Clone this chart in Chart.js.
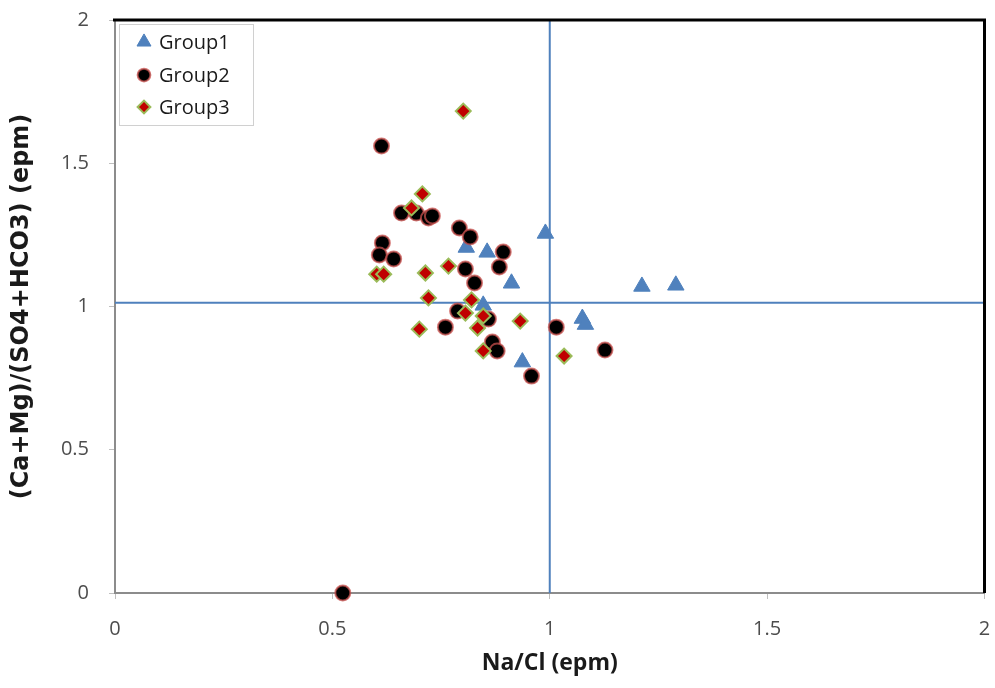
<!DOCTYPE html>
<html>
<head>
<meta charset="utf-8">
<title>Na/Cl vs (Ca+Mg)/(SO4+HCO3)</title>
<script src="https://cdn.jsdelivr.net/npm/chart.js@4.4.1/dist/chart.umd.min.js"></script>
<style>
    html, body { margin: 0; padding: 0; background: #fff; }
    #wrap { width: 995px; height: 688px; }
</style>
</head>
<body>
<div id="wrap"><canvas id="chart" width="995" height="688"></canvas></div>
<script>
// Valores: Na/Cl (x) y (Ca+Mg)/(SO4+HCO3) (y), en epm
const seriesNames = ["Group1", "Group2", "Group3"];

const group1X = [0.990, 0.808, 0.856, 0.912, 1.212, 1.290, 0.847, 1.075, 1.082, 0.937];
const group1Y = [1.255, 1.206, 1.189, 1.081, 1.070, 1.074, 1.004, 0.958, 0.937, 0.806];

const group2X = [0.613, 0.659, 0.693, 0.721, 0.730, 0.792, 0.817, 0.615, 0.608, 0.641, 0.806, 0.827,
                 0.893, 0.884, 0.788, 0.760, 0.859, 0.868, 0.879, 0.958, 1.015, 1.127, 0.524];
const group2Y = [1.560, 1.326, 1.326, 1.309, 1.316, 1.274, 1.243, 1.222, 1.180, 1.166, 1.131, 1.082,
                 1.190, 1.138, 0.984, 0.928, 0.956, 0.876, 0.845, 0.757, 0.928, 0.848, 0.000];

const group3X = [0.801, 0.707, 0.682, 0.602, 0.618, 0.714, 0.767, 0.721, 0.820, 0.806, 0.847, 0.700,
                 0.834, 0.847, 0.932, 1.033];
const group3Y = [1.682, 1.393, 1.344, 1.113, 1.113, 1.117, 1.141, 1.030, 1.023, 0.977, 0.967, 0.921,
                 0.925, 0.845, 0.949, 0.827];

// Líneas de referencia (Na/Cl = 1 y relación ≈ 1)
const refVertX = [1, 1];
const refVertY = [0, 2];
const refHorzX = [0, 2];
const refHorzY = [1.013, 1.013];

// Marcas de los ejes
const xTicks = [0, 0.5, 1, 1.5, 2];
const yTicks = [0, 0.5, 1, 1.5, 2];

const xTitle = "Na/Cl (epm)";
const yTitle = "(Ca+Mg)/(SO4+HCO3) (epm)";

function toPoints(xs, ys) {
    return xs.map((x, i) => ({ x: x, y: ys[i] }));
}

const BLUE = "#4F81BD";
const TICK_COLOR = "#4D4D4D";
const AXIS_COLOR = "#8C8C8C";

// Marco superior y derecho en negro
const framePlugin = {
    id: "frame",
    afterDatasetsDraw(chart) {
        const { ctx, chartArea: a } = chart;
        ctx.save();
        ctx.strokeStyle = "#000";
        ctx.lineWidth = 3;
        ctx.beginPath();
        ctx.moveTo(a.left - 2, a.top);
        ctx.lineTo(a.right, a.top);
        ctx.lineTo(a.right, a.bottom);
        ctx.stroke();
        ctx.restore();
    }
};

// Leyenda dentro del área del gráfico, con recuadro gris
const legendPlugin = {
    id: "boxLegend",
    afterDraw(chart) {
        const { ctx } = chart;
        const box = { x: 119.5, y: 24.5, w: 134, h: 101 };
        ctx.save();
        ctx.fillStyle = "#fff";
        ctx.fillRect(box.x, box.y, box.w, box.h);
        ctx.strokeStyle = "#D0D0D0";
        ctx.lineWidth = 1;
        ctx.strokeRect(box.x, box.y, box.w, box.h);

        const rows = [42, 75, 107];
        const byName = {};
        chart.data.datasets.forEach(ds => { byName[ds.label] = ds; });

        seriesNames.forEach((name, i) => {
            const ds = byName[name];
            ctx.fillStyle = ds.backgroundColor;
            ctx.strokeStyle = ds.borderColor;
            ctx.lineWidth = ds.borderWidth;
            Chart.helpers.drawPoint(ctx, {
                pointStyle: ds.pointStyle,
                radius: ds.pointRadius * 0.85,
                rotation: 0,
                borderWidth: ds.borderWidth
            }, 144, rows[i]);

            ctx.fillStyle = "#1a1a1a";
            ctx.font = "20px 'Open Sans', sans-serif";
            ctx.textBaseline = "middle";
            ctx.textAlign = "left";
            ctx.fillText(name, 159, rows[i] + 1);
        });
        ctx.restore();
    }
};

const ctx = document.getElementById("chart").getContext("2d");

new Chart(ctx, {
    type: "scatter",
    data: {
        datasets: [
            {
                label: "Group3",
                data: toPoints(group3X, group3Y),
                pointStyle: "rectRot",
                pointRadius: 7.5,
                backgroundColor: "#C00000",
                borderColor: "#9BBB59",
                borderWidth: 2,
                order: 0,
                clip: false
            },
            {
                label: "Group2",
                data: toPoints(group2X, group2Y),
                pointStyle: "circle",
                pointRadius: 7.5,
                backgroundColor: "#000000",
                borderColor: "rgba(200, 80, 77, 0.75)",
                borderWidth: 2,
                order: 1,
                clip: false
            },
            {
                label: "refV",
                data: toPoints(refVertX, refVertY),
                showLine: true,
                pointRadius: 0,
                borderColor: BLUE,
                borderWidth: 2,
                order: 2
            },
            {
                label: "refH",
                data: toPoints(refHorzX, refHorzY),
                showLine: true,
                pointRadius: 0,
                borderColor: BLUE,
                borderWidth: 2,
                order: 2
            },
            {
                label: "Group1",
                data: toPoints(group1X, group1Y),
                pointStyle: "triangle",
                pointRadius: 9.5,
                backgroundColor: BLUE,
                borderColor: BLUE,
                borderWidth: 1,
                order: 3,
                clip: false
            }
        ]
    },
    options: {
        responsive: false,
        animation: false,
        layout: { padding: { top: 20, right: 9, left: 0, bottom: 0 } },
        plugins: {
            legend: { display: false },
            tooltip: { enabled: false }
        },
        scales: {
            x: {
                type: "linear",
                min: 0,
                max: 2,
                afterBuildTicks: s => { s.ticks = xTicks.map(v => ({ value: v })); },
                afterFit: s => { s.height = 95; s.paddingLeft = 0; s.paddingRight = 0; },
                ticks: {
                    color: TICK_COLOR,
                    padding: 18,
                    font: { family: "'Liberation Sans Narrow', 'Open Sans', sans-serif", size: 20 },
                    callback: v => String(v)
                },
                grid: { drawOnChartArea: false, tickLength: 6, color: "#BFBFBF" },
                border: { color: AXIS_COLOR, width: 2 },
                title: {
                    display: true,
                    text: xTitle,
                    color: "#1a1a1a",
                    font: { family: "'Open Sans', sans-serif", size: 23, weight: "bold" },
                    padding: { top: 0, bottom: 11 }
                }
            },
            y: {
                type: "linear",
                min: 0,
                max: 2,
                afterBuildTicks: s => { s.ticks = yTicks.map(v => ({ value: v })); },
                afterFit: s => { s.width = 115; s.paddingTop = 0; s.paddingBottom = 0; },
                ticks: {
                    color: TICK_COLOR,
                    padding: 20,
                    font: { family: "'Open Sans', sans-serif", size: 20 },
                    callback: v => String(v)
                },
                grid: { drawOnChartArea: false, tickLength: 6, color: "#BFBFBF" },
                border: { color: AXIS_COLOR, width: 2 },
                title: {
                    display: true,
                    text: yTitle,
                    color: "#1a1a1a",
                    font: { family: "'DejaVu Sans', sans-serif", size: 24, weight: "bold" },
                    padding: { top: 7, bottom: 0 }
                }
            }
        }
    },
    plugins: [framePlugin, legendPlugin]
});
</script>
</body>
</html>
